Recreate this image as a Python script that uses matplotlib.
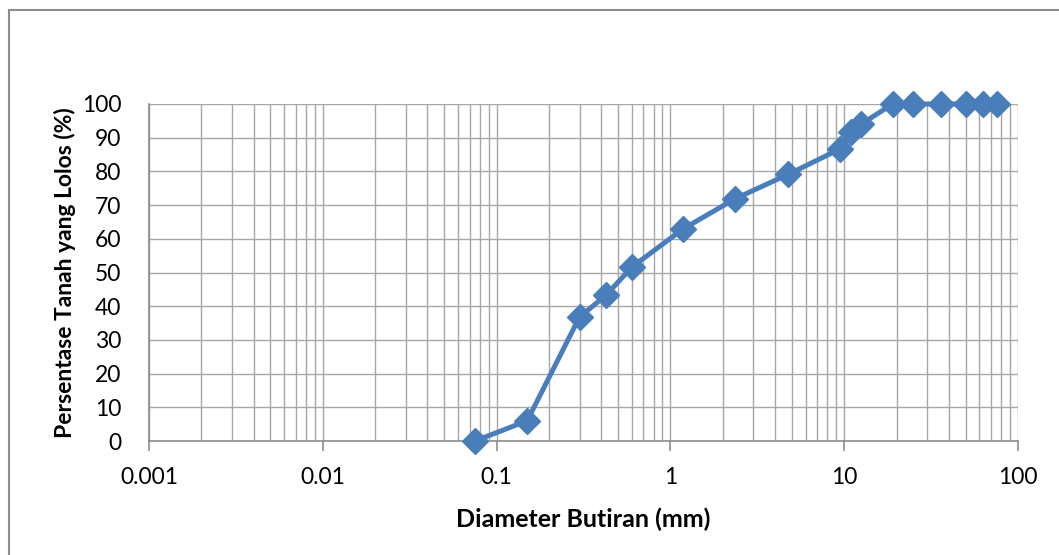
import matplotlib
matplotlib.use("Agg")
import matplotlib.pyplot as plt
from matplotlib.lines import Line2D
from matplotlib.ticker import LogLocator, NullFormatter, FixedLocator, FixedFormatter

# Data
diameter_mm = [0.075, 0.15, 0.3, 0.425, 0.6, 1.18, 2.36, 4.75, 9.5, 11.0, 12.5,
               19.0, 25.0, 36.0, 50.0, 63.0, 76.0]
percent_passing = [0.0, 6.0, 36.8, 43.2, 51.6, 62.9, 71.9, 79.1, 86.7, 91.6, 94.0,
                   100, 100, 100, 100, 100, 100]
x_tick_values = [0.001, 0.01, 0.1, 1, 10, 100]
x_tick_labels = ["0.001", "0.01", "0.1", "1", "10", "100"]
y_tick_values = list(range(0, 101, 10))

plt.rcParams['font.family'] = ['Lato', 'DejaVu Sans']

fig = plt.figure(figsize=(10.59, 5.55), dpi=100)
ax = fig.add_axes([149/1059, 1 - 441/555, (1018 - 149)/1059, (441 - 104)/555])

line_color = '#4a7ebb'
grid_color = '#a6a6a6'

ax.set_xscale('log')
ax.set_xlim(0.001, 100)
ax.set_ylim(0, 100)

ax.xaxis.set_major_locator(FixedLocator(x_tick_values))
ax.xaxis.set_major_formatter(FixedFormatter(x_tick_labels))
ax.xaxis.set_minor_locator(LogLocator(base=10, subs=range(2, 10), numticks=20))
ax.xaxis.set_minor_formatter(NullFormatter())
ax.set_yticks(y_tick_values)

ax.grid(True, which='major', axis='both', color=grid_color, linewidth=1.0)
ax.grid(True, which='minor', axis='x', color=grid_color, linewidth=1.0)
ax.set_axisbelow(True)

for side in ['top', 'right']:
    ax.spines[side].set_visible(False)
for side in ['left', 'bottom']:
    ax.spines[side].set_color('#8c8c8c')
    ax.spines[side].set_linewidth(1.2)

ax.tick_params(axis='both', which='major', labelsize=16.5, colors='#8c8c8c',
               labelcolor='black', width=1.2, direction='out')
ax.tick_params(axis='x', which='minor', length=0)
ax.tick_params(axis='x', which='major', length=7, pad=12)
ax.tick_params(axis='y', which='major', length=0, pad=20)

ax.plot(diameter_mm, percent_passing, color=line_color, linewidth=3.6,
        marker='D', markersize=13, markerfacecolor=line_color,
        markeredgecolor=line_color, clip_on=False, zorder=5)

ax.set_xlabel('Diameter Butiran (mm)', fontsize=18, fontweight='bold', labelpad=14)
ax.set_ylabel('Persentase Tanah yang Lolos (%)', fontsize=16.5, fontweight='bold', labelpad=4)

# Outer chart border (Excel chart area)
fig.add_artist(Line2D([9/1059, 1.0], [1 - 9.5/555, 1 - 9.5/555], transform=fig.transFigure,
                      color='#8c8c8c', linewidth=1.5))
fig.add_artist(Line2D([9/1059, 9/1059], [0.0, 1 - 9.5/555], transform=fig.transFigure,
                      color='#8c8c8c', linewidth=1.5))

fig.savefig('out.png', dpi=100)
